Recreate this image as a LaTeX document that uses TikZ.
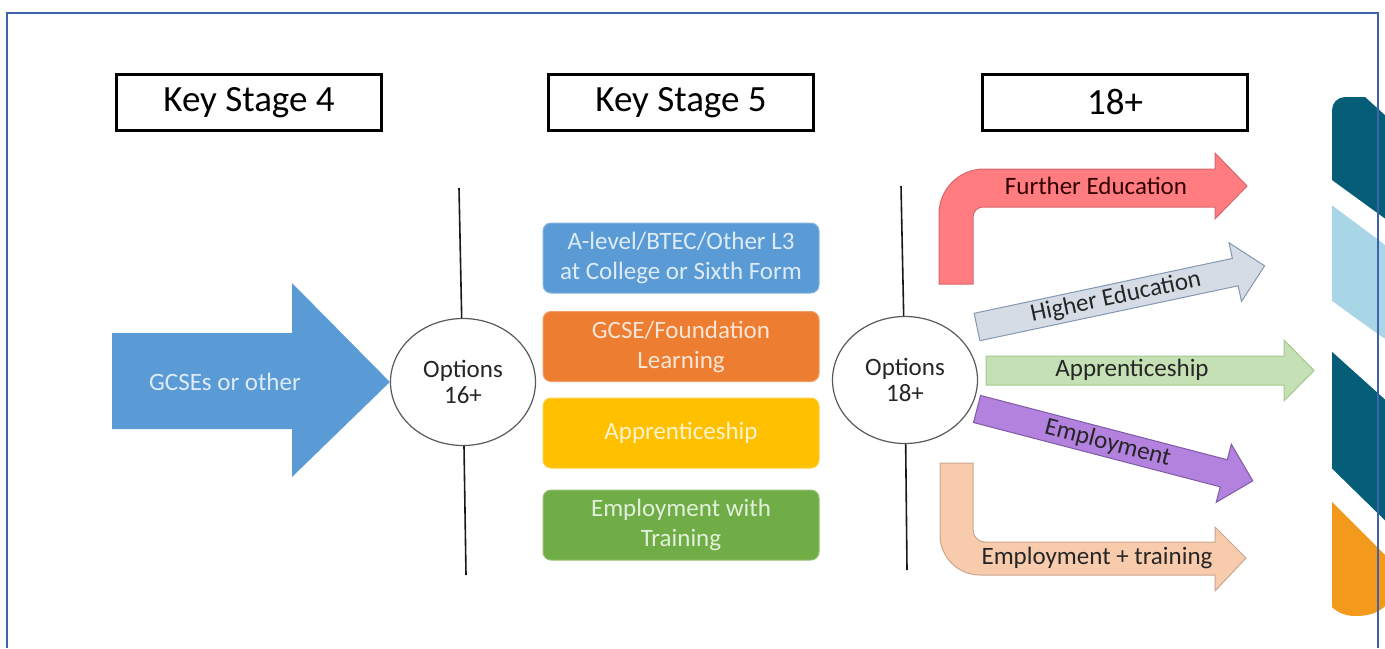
\documentclass[tikz,border=0pt]{standalone}
\usepackage{fontspec}
\setmainfont{Carlito}
\usetikzlibrary{shapes.geometric}

\definecolor{frameblue}{HTML}{4062A8}
\definecolor{gcseblue}{HTML}{5B9BD5}
\definecolor{gcsetext}{HTML}{DDEBF7}
\definecolor{fdnorange}{HTML}{ED7D31}
\definecolor{apyellow}{HTML}{FFC000}
\definecolor{empgreen}{HTML}{70AD47}
\definecolor{furtherfill}{HTML}{FF7C80}
\definecolor{furtherline}{HTML}{D9666A}
\definecolor{higherfill}{HTML}{D6DCE5}
\definecolor{higherline}{HTML}{8497B0}
\definecolor{apfill}{HTML}{C5E0B4}
\definecolor{apline}{HTML}{A3C98E}
\definecolor{empfill}{HTML}{B381DE}
\definecolor{empline}{HTML}{7F5BA6}
\definecolor{trainfill}{HTML}{F8CBAD}
\definecolor{trainline}{HTML}{C9A58E}
\definecolor{bandteal}{HTML}{065D78}
\definecolor{bandlight}{HTML}{A8D6E6}
\definecolor{bandorange}{HTML}{F39A1D}

\tikzset{
  stagebox/.style={draw=black, line width=1.5pt, minimum width=132.5pt, minimum height=28pt,
    font=\fontsize{18.5}{22}\selectfont},
  optcircle/.style={ellipse, draw=black!65, line width=0.6pt, fill=white, minimum width=72.5pt,
    minimum height=63.5pt, inner sep=1pt, align=center, text=black!85,
    font=\fontsize{12.5}{13}\selectfont},
  routebox/.style={rounded corners=4pt, minimum width=138pt, minimum height=35pt, align=center,
    line width=0.5pt, font=\fontsize{12.5}{15}\selectfont},
  divider/.style={line width=0.8pt, black!90},
  pathlabel/.style={font=\fontsize{12.5}{15}\selectfont, text=black!85},
}

\begin{document}
\begin{tikzpicture}[x=0.5pt, y=-0.5pt]
\useasboundingbox (0,0) rectangle (1385,648);

% decorative bands on the right
\begin{scope}
  \clip (1332,80) rectangle (1385,648);
  \fill[bandteal] (1332,110) arc[start angle=180, end angle=270, radius=13] -- (1365,97) -- (1398,127)
    -- (1398,228) -- (1310,164) -- (1310,110) -- cycle;
  \fill[bandlight, rounded corners=12] (1310,189) -- (1400,256) -- (1400,350) -- (1310,285) -- cycle;
  \fill[bandteal] (1310,332) -- (1400,413) -- (1400,535) -- (1310,447) -- cycle;
  \fill[bandorange] (1310,480) -- (1400,570) -- (1400,580) .. controls (1390,612) and (1372,616) .. (1355,616)
    .. controls (1340,616) and (1332,608) .. (1325,600) -- (1310,590) -- cycle;
\end{scope}

% frame
\draw[frameblue, line width=1pt] (7,648) -- (7,13) -- (1378,13) -- (1378,648);

% stage headers
\node[stagebox] (ks4) at (249,102.5) {Key Stage 4};
\node[stagebox] (ks5) at (681,102.5) {Key Stage 5};
\node[stagebox] (post18) at (1115,102) {18+};

% options and dividers
\node[optcircle] (opt16) at (463,382) {Options\\16+};
\node[optcircle] (opt18) at (905,380) {Options\\18+};
\coordinate (div16top) at (459,188);
\coordinate (div16bot) at (466,575);
\coordinate (div18top) at (901,186);
\coordinate (div18bot) at (907,570);
\draw[divider] (div16top) -- (opt16);
\draw[divider] (opt16) -- (div16bot);
\draw[divider] (div18top) -- (opt18);
\draw[divider] (opt18) -- (div18bot);

% key stage 4 arrow
\fill[gcseblue] (112,333) -- (292,333) -- (292,283) -- (opt16.west) -- (292,477) -- (292,429)
  -- (112,429) -- cycle;
\node[pathlabel, text=gcsetext] (gcse) at (225,382) {GCSEs or other};

% key stage 5 routes
\node[routebox, fill=gcseblue, draw=gcseblue!75!white, text=gcsetext] (alevel) at (681,258)
  {A-level/BTEC/Other L3\\at College or Sixth Form};
\node[routebox, fill=fdnorange, draw=fdnorange!75!white, text=fdnorange!20!white] (fdn) at (681,346.5)
  {GCSE/Foundation\\Learning};
\node[routebox, fill=apyellow, draw=apyellow!75!white, text=apyellow!20!white] (appr5) at (681,433)
  {Apprenticeship};
\node[routebox, fill=empgreen, draw=empgreen!75!white, text=empgreen!20!white] (emptrain5) at (681,525)
  {Employment with\\Training};

% 18+ routes
\filldraw[fill=furtherfill, draw=furtherline, line width=0.5pt] (939,284) -- (939,214)
  arc[start angle=180, end angle=270, radius=45] -- (1215,169) -- (1215,153) -- (1247,186)
  -- (1215,219) -- (1215,207) -- (983,207) arc[start angle=270, end angle=180, radius=10]
  -- (973,284) -- cycle;
\node[pathlabel, text=black!80!red] (further) at (1096,186) {Further Education};

\begin{scope}[shift={(977,327)}, rotate=12]
  \filldraw[fill=higherfill, draw=higherline, line width=0.5pt] (0,-14) -- (264,-14) -- (264,-30)
    -- (294,0) -- (264,30) -- (264,14) -- (0,14) -- cycle;
  \node[pathlabel, rotate=12] (higher) at (142,0) {Higher Education};
\end{scope}

\filldraw[fill=apfill, draw=apline, line width=0.5pt] (986,356) -- (1284,356) -- (1284,340)
  -- (1314,370.5) -- (1284,401) -- (1284,385) -- (986,385) -- cycle;
\node[pathlabel] (appr18) at (1132,370) {Apprenticeship};

\begin{scope}[shift={(977,409)}, rotate=-14.6]
  \filldraw[fill=empfill, draw=empline, line width=0.5pt] (0,-14) -- (255,-14) -- (255,-30)
    -- (285,0) -- (255,30) -- (255,14) -- (0,14) -- cycle;
  \node[pathlabel, rotate=-14.6] (employ) at (135,0) {Employment};
\end{scope}

\filldraw[fill=trainfill, draw=trainline, line width=0.5pt] (940,463) -- (940,535)
  arc[start angle=180, end angle=90, radius=40] -- (1215,575) -- (1215,591) -- (1246,558)
  -- (1215,527) -- (1215,542) -- (985,542) arc[start angle=90, end angle=180, radius=12]
  -- (973,463) -- cycle;
\node[pathlabel] (training) at (1097,558) {Employment + training};
\end{tikzpicture}
\end{document}
